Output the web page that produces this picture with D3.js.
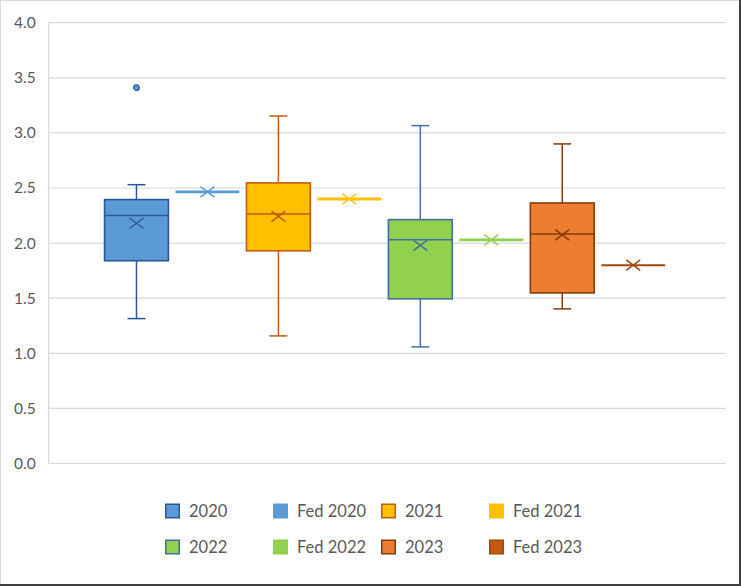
<!DOCTYPE html>
<html>
<head>
<meta charset="utf-8">
<script src="https://cdn.jsdelivr.net/npm/d3@7"></script>
<style>
    body { margin: 0; background: #fff; }
    svg { display: block; font-family: Lato, "Open Sans", sans-serif; }
</style>
</head>
<body>
<svg id="chart" width="741" height="586"></svg>
<script>
// series and their five-number summaries
const seriesNames = ["2020", "Fed 2020", "2021", "Fed 2021", "2022", "Fed 2022", "2023", "Fed 2023"];
const lowWhisker  = [1.315, 2.465, 1.158, 2.40, 1.058, 2.03, 1.403, 1.80];
const q1Values    = [1.84,  2.465, 1.93,  2.40, 1.494, 2.03, 1.548, 1.80];
const medianValues= [2.25,  2.465, 2.265, 2.40, 2.03,  2.03, 2.083, 1.80];
const q3Values    = [2.395, 2.465, 2.546, 2.40, 2.213, 2.03, 2.364, 1.80];
const highWhisker = [2.53,  2.465, 3.153, 2.40, 3.066, 2.03, 2.90,  1.80];
const meanValues  = [2.18,  2.465, 2.243, 2.40, 1.98,  2.03, 2.074, 1.80];
const outlierValues = [[3.41], [], [], [], [], [], [], []];
const yTicks = [0, 0.5, 1.0, 1.5, 2.0, 2.5, 3.0, 3.5, 4.0];

const fillColors   = ["#5B9BD5", "#5B9BD5", "#FFC000", "#FFC000", "#92D050", "#92D050", "#ED7D31", "#C55A11"];
const strokeColors = ["#2F5597", "#5B9BD5", "#C55A11", "#FFC000", "#41719C", "#92D050", "#843C0C", "#9E480E"];

const width = 741, height = 586;
const plot = {left: 48.7, right: 726, top: 22.7, bottom: 463.5};

const svg = d3.select("#chart");

let y = d3.scaleLinear().domain([0, 4]).range([plot.bottom, plot.top]);
let x = d3.scaleBand()
    .domain(seriesNames)
    .range([plot.left, 721])
    .paddingInner(0)
    .paddingOuter(0.737);

// chart border
svg.append("rect").attr("x", 0.5).attr("y", 0.5).attr("width", width - 1).attr("height", height - 1)
    .attr("fill", "none").attr("stroke", "#D9D9D9");
svg.append("line").attr("x1", width - 1).attr("x2", width - 1).attr("y1", 0).attr("y2", height)
    .attr("stroke", "#404040").attr("stroke-width", 2);
svg.append("line").attr("x1", 0).attr("x2", width).attr("y1", height - 1).attr("y2", height - 1)
    .attr("stroke", "#404040").attr("stroke-width", 2);

// gridlines
svg.append("g").selectAll("line")
    .data(yTicks)
    .enter()
    .append("line")
    .attr("x1", plot.left).attr("x2", plot.right)
    .attr("y1", d => y(d)).attr("y2", d => y(d))
    .attr("stroke", "#D9D9D9").attr("stroke-width", 1.2);
svg.append("line")
    .attr("x1", plot.left).attr("x2", plot.left)
    .attr("y1", y(4)).attr("y2", y(0))
    .attr("stroke", "#D9D9D9").attr("stroke-width", 1.2);

// y axis labels
let yAxis = d3.axisLeft(y).tickValues(yTicks).tickFormat(d3.format(".1f")).tickSize(0).tickPadding(13);
let yg = svg.append("g").attr("transform", `translate(${plot.left},0)`).call(yAxis);
yg.select(".domain").remove();
yg.selectAll("text").attr("fill", "#595959").style("font-size", "15.5px").style("font-family", "Lato, sans-serif");

// boxes
let bw = x.bandwidth() * 0.9;
let capW = bw * 0.28;
let items = seriesNames.map((name, i) => ({
    name: name, i: i,
    lo: lowWhisker[i], q1: q1Values[i], med: medianValues[i], q3: q3Values[i], hi: highWhisker[i],
    mean: meanValues[i], out: outlierValues[i]
}));

let groups = svg.append("g").selectAll("g")
    .data(items)
    .enter()
    .append("g")
    .attr("transform", d => `translate(${x(d.name) + x.bandwidth() / 2},0)`);

groups.each(function(d) {
    let g = d3.select(this);
    let stroke = strokeColors[d.i], fill = fillColors[d.i];
    if (d.q3 - d.q1 < 1e-6) {
        // flat series: one line with its mean marker
        g.append("line").attr("x1", -bw / 2).attr("x2", bw / 2)
            .attr("y1", y(d.med)).attr("y2", y(d.med))
            .attr("stroke", stroke).attr("stroke-width", d.i == 7 ? 2 : 2.8);
    } else {
        // whiskers
        [[d.q3, d.hi], [d.q1, d.lo]].forEach(w => {
            g.append("line").attr("x1", 0).attr("x2", 0)
                .attr("y1", y(w[0])).attr("y2", y(w[1]))
                .attr("stroke", stroke).attr("stroke-width", 1.5);
            g.append("line").attr("x1", -capW / 2).attr("x2", capW / 2)
                .attr("y1", y(w[1])).attr("y2", y(w[1]))
                .attr("stroke", stroke).attr("stroke-width", 1.5);
        });
        g.append("rect")
            .attr("x", -bw / 2).attr("width", bw)
            .attr("y", y(d.q3)).attr("height", y(d.q1) - y(d.q3))
            .attr("fill", fill).attr("stroke", stroke).attr("stroke-width", 1.6);
        g.append("line").attr("x1", -bw / 2).attr("x2", bw / 2)
            .attr("y1", y(d.med)).attr("y2", y(d.med))
            .attr("stroke", stroke).attr("stroke-width", 1.5);
    }
    // mean marker
    let m = 7, my = y(d.mean);
    g.append("path")
        .attr("d", `M${-m},${my - m * 0.75}L${m},${my + m * 0.75}M${-m},${my + m * 0.75}L${m},${my - m * 0.75}`)
        .attr("stroke", stroke).attr("stroke-width", 1.5).attr("fill", "none");
    // outliers
    g.selectAll("circle.out")
        .data(d.out)
        .enter()
        .append("circle")
        .attr("class", "out")
        .attr("cx", 0).attr("cy", v => y(v)).attr("r", 2.8)
        .attr("fill", fill).attr("stroke", stroke).attr("stroke-width", 1.2);
});

// legend
let legendCols = [165, 273, 381, 489];
let legendRows = [503.5, 539.5];
let lg = svg.append("g").selectAll("g")
    .data(items)
    .enter()
    .append("g")
    .attr("transform", d => {
        let col = d.i % 4 ;
        let row = Math.floor(d.i / 4);
        return `translate(${legendCols[col]},${legendRows[row]})`;
    });
lg.append("rect")
    .attr("x", 0.75).attr("y", 0.75).attr("width", 13.5).attr("height", 13.5)
    .attr("fill", d => fillColors[d.i])
    .attr("stroke", d => strokeColors[d.i]).attr("stroke-width", 1.5);
lg.append("text")
    .attr("x", 24).attr("y", 7.5)
    .attr("dy", "0.36em")
    .attr("fill", "#595959")
    .style("font-size", "16.5px")
    .text(d => d.name);
</script>
</body>
</html>
